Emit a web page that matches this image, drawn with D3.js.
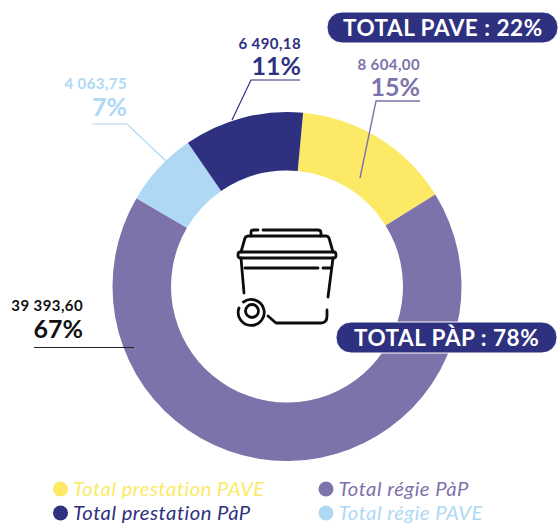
<!DOCTYPE html>
<html>
<head>
<meta charset="utf-8">
<script src="https://d3js.org/d3.v7.min.js"></script>
<style>
body { margin: 0; background: #fff; }
text { font-family: Lato, "Noto Sans", sans-serif; }
</style>
</head>
<body>
<div id="chart"></div>
<script>
var categories = ["Total prestation PAVE", "Total régie PàP", "Total régie PAVE", "Total prestation PàP"];
var values = [8604.00, 39393.60, 4063.75, 6490.18];
var amountLabels = ["8 604,00", "39 393,60", "4 063,75", "6 490,18"];
var percentLabels = ["15%", "67%", "7%", "11%"];
var colors = ["#fcea66", "#7e72ab", "#aed8f4", "#2e3180"];
var labelColors = ["#7e72ab", "#111111", "#aed8f4", "#2e3180"];
var totalLabels = ["TOTAL PAVE : 22%", "TOTAL PÀP : 78%"];
// legend reads in two columns, not in slice order
var legendOrder = [0, 3, 1, 2];

var width = 558, height = 525;
var cx = 287, cy = 286.5, outerR = 174.5, innerR = 116;
var startAngle = 5.3 * Math.PI / 180;

var svg = d3.select("#chart").append("svg")
    .attr("width", width)
    .attr("height", height)
    .style("display", "block");

var pie = d3.pie().sort(null).startAngle(startAngle).endAngle(startAngle + 2 * Math.PI);
var arc = d3.arc().innerRadius(innerR).outerRadius(outerR);

var g = svg.append("g").attr("transform", "translate(" + cx + "," + cy + ")");
g.selectAll("path").data(pie(values)).enter().append("path")
    .attr("d", arc)
    .attr("fill", function(d, i) { return colors[i]; });

// leader lines and labels, one per slice
var labelPos = [
    {x: 420, amountY: 70, pctY: 96, line: [[360, 178], [376, 101], [420, 101]]},
    {x: 83, amountY: 311, pctY: 338, line: [[34, 347.5], [134, 347.5]]},
    {x: 127, amountY: 89, pctY: 116, line: [[166, 161], [127, 124], [92, 124]]},
    {x: 301, amountY: 49, pctY: 75, line: [[232, 120], [251, 80], [300, 80]]}
];
var lineGen = d3.line();

labelPos.forEach(function(p, i) {
    svg.append("path")
        .attr("d", lineGen(p.line))
        .attr("fill", "none")
        .attr("stroke", i == 1 ? "#222222" : labelColors[i])
        .attr("stroke-width", i == 0 ? 1.4 : 1.2);
    svg.append("text")
        .attr("x", p.x)
        .attr("y", p.amountY)
        .attr("text-anchor", "end")
        .attr("font-size", 15)
        .attr("font-weight", 700)
        .attr("letter-spacing", 0.4)
        .attr("fill", labelColors[i])
        .text(amountLabels[i]);
    svg.append("text")
        .attr("x", p.x)
        .attr("y", p.pctY)
        .attr("text-anchor", "end")
        .attr("font-size", 25)
        .attr("font-weight", 700)
        .attr("fill", labelColors[i])
        .text(percentLabels[i]);
});

// total pills
var pills = [
    {x: 327, y: 12, w: 231, h: 31, textX: 343, textY: 36},
    {x: 336, y: 322, w: 221, h: 31, textX: 354, textY: 346}
];
pills.forEach(function(p, i) {
    svg.append("rect")
        .attr("x", p.x).attr("y", p.y)
        .attr("width", p.w).attr("height", p.h)
        .attr("rx", 15)
        .attr("fill", "#2e3180")
        .attr("stroke", "#fff")
        .attr("stroke-width", 1);
    svg.append("text")
        .attr("x", p.textX).attr("y", p.textY)
        .attr("font-size", 22.5)
        .attr("font-weight", 700)
        .attr("letter-spacing", 0.5)
        .attr("fill", "#fff")
        .text(totalLabels[i]);
});

// bin icon
var icon = svg.append("g")
    .attr("fill", "none")
    .attr("stroke", "#0d0d0d")
    .attr("stroke-width", 2.8)
    .attr("stroke-linecap", "round")
    .attr("stroke-linejoin", "round");
[
    "M251,236 V232 Q251,230 254,230 H258 M263,230 H318 Q321,230 321,233 V236",
    "M241,252 L245,238 Q246,236 249,236 H326 Q328,236 329,238 L333,252",
    "M240,252 H334 Q336,252 336,255 Q336,258 334,258 H240 Q238,258 238,255 Q238,252 240,252",
    "M241,258 L244,293",
    "M245,268 H318 M323,268 H330",
    "M333,258 L328,297 M327,310 V316 Q327,323 321,323 H276 L268,316",
    "M243.5,302 A13,13 0 1 1 239,308"
].forEach(function(d) {
    icon.append("path").attr("d", d);
});
icon.append("circle").attr("cx", 252).attr("cy", 311).attr("r", 6.5);

// legend
var legendX = [60.5, 326], legendY = [489, 513];
legendOrder.forEach(function(c, i) {
    var col = Math.floor(i / 2), row = i % 2;
    svg.append("circle")
        .attr("cx", legendX[col])
        .attr("cy", legendY[row])
        .attr("r", 7.5)
        .attr("fill", colors[c]);
    svg.append("text")
        .attr("x", legendX[col] + 12.5)
        .attr("y", legendY[row] + 7)
        .attr("font-size", 20.2)
        .attr("font-style", "italic")
        .attr("letter-spacing", 0.5)
        .attr("fill", colors[c])
        .text(categories[c]);
});
</script>
</body>
</html>
